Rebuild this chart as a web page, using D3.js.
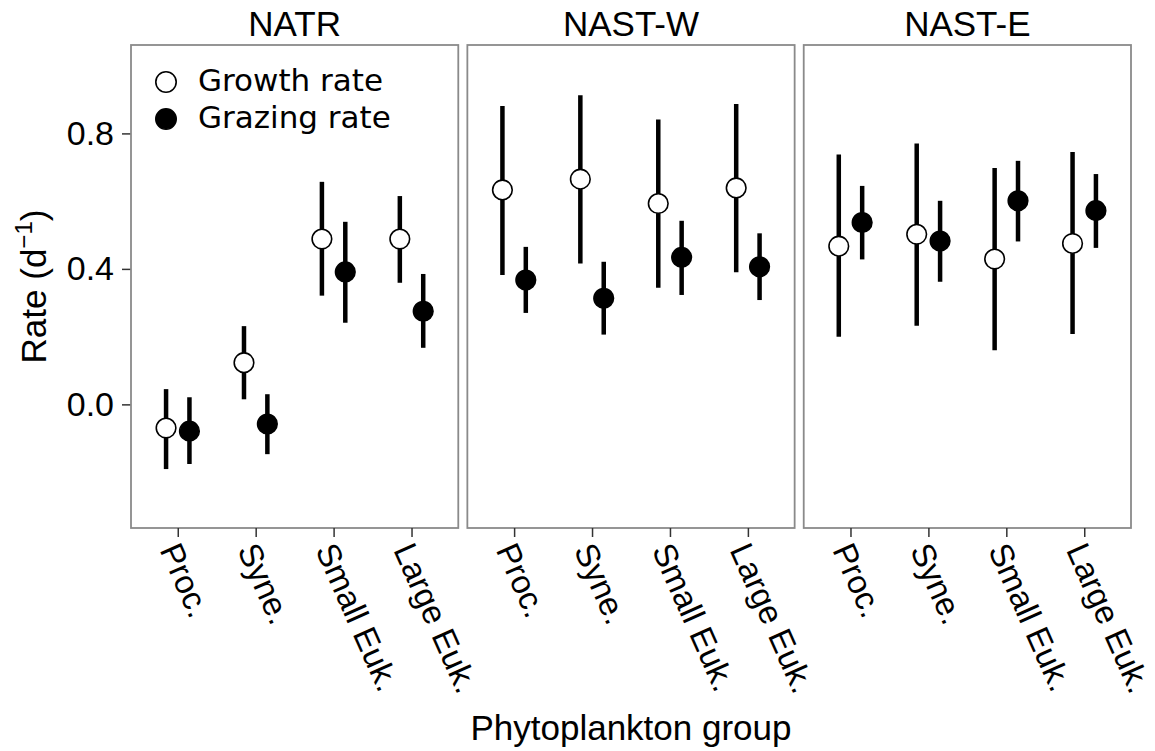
<!DOCTYPE html>
<html>
<head>
<meta charset="utf-8">
<script src="https://cdn.jsdelivr.net/npm/d3@7/dist/d3.min.js"></script>
<style>
  html, body { margin: 0; padding: 0; background: #fff; }
  svg { display: block; }
</style>
</head>
<body>
<svg id="chart" width="1155" height="751"></svg>
<script>
// ---------------- data ----------------
const panels = ["NATR", "NAST-W", "NAST-E"];
const groups = ["Proc.", "Syne.", "Small Euk.", "Large Euk."];
const seriesNames = ["Growth rate", "Grazing rate"];
const yTicks = [0.0, 0.4, 0.8];

// Growth rate (mean, lower, upper) per panel
const growthNATR      = [-0.070, 0.123, 0.488, 0.488];
const growthNATRlo    = [-0.191, 0.015, 0.321, 0.359];
const growthNATRhi    = [ 0.045, 0.231, 0.657, 0.615];
const growthNASTW     = [0.633, 0.665, 0.593, 0.639];
const growthNASTWlo   = [0.382, 0.416, 0.344, 0.390];
const growthNASTWhi   = [0.881, 0.913, 0.841, 0.887];
const growthNASTE     = [0.467, 0.502, 0.429, 0.475];
const growthNASTElo   = [0.200, 0.232, 0.160, 0.208];
const growthNASTEhi   = [0.738, 0.770, 0.698, 0.745];

// Grazing rate (mean, lower, upper) per panel
const grazingNATR     = [-0.079, -0.058, 0.391, 0.275];
const grazingNATRlo   = [-0.176, -0.147, 0.241, 0.167];
const grazingNATRhi   = [ 0.021,  0.030, 0.539, 0.385];
const grazingNASTW    = [0.367, 0.313, 0.434, 0.406];
const grazingNASTWlo  = [0.270, 0.206, 0.323, 0.308];
const grazingNASTWhi  = [0.465, 0.421, 0.542, 0.505];
const grazingNASTE    = [0.537, 0.482, 0.601, 0.572];
const grazingNASTElo  = [0.428, 0.362, 0.481, 0.462];
const grazingNASTEhi  = [0.645, 0.601, 0.719, 0.680];

const growthMean = [growthNATR, growthNASTW, growthNASTE];
const growthLo   = [growthNATRlo, growthNASTWlo, growthNASTElo];
const growthHi   = [growthNATRhi, growthNASTWhi, growthNASTEhi];
const grazingMean = [grazingNATR, grazingNASTW, grazingNASTE];
const grazingLo   = [grazingNATRlo, grazingNASTWlo, grazingNASTElo];
const grazingHi   = [grazingNATRhi, grazingNASTWhi, grazingNASTEhi];

// build long table
const rows = [];
panels.forEach((p, pi) => {
  groups.forEach((g, gi) => {
    rows.push({panel: p, group: g, series: seriesNames[0],
      v: growthMean[pi][gi], lo: growthLo[pi][gi], hi: growthHi[pi][gi]});
    rows.push({panel: p, group: g, series: seriesNames[1],
      v: grazingMean[pi][gi], lo: grazingLo[pi][gi], hi: grazingHi[pi][gi]});
  });
});

// ---------------- layout ----------------
const svg = d3.select("#chart");
const plotLeft = 131, plotRight = 1131, plotTop = 45, plotBottom = 528;
const labelFont = "'Liberation Sans', Arial, Helvetica, sans-serif";
const legendFont = "'DejaVu Sans', Verdana, sans-serif";
const fsTitle = 35, fsTick = 34, fsXTick = 33;

const panelScale = d3.scaleBand().domain(panels).range([plotLeft, plotRight]).paddingInner(0.027);
const y = d3.scaleLinear().domain([-0.365, 1.061]).range([plotBottom, plotTop]);
const dodge = d3.scalePoint().domain(seriesNames).range([-0.15, 0.15]);

// y axis
const yAxis = d3.axisLeft(y).tickValues(yTicks).tickFormat(d3.format(".1f")).tickSize(9).tickPadding(8);
const gy = svg.append("g").attr("transform", `translate(${plotLeft},0)`).call(yAxis);
gy.select(".domain").remove();
gy.selectAll(".tick line").attr("stroke", "#333").attr("stroke-width", 1.5);
gy.selectAll(".tick text").attr("font-family", labelFont).attr("font-size", fsTick).attr("fill", "#000");

panels.forEach((p) => {
  const x0 = panelScale(p), x1 = x0 + panelScale.bandwidth();
  const x = d3.scalePoint().domain(groups).range([x0, x1]).padding(0.6);
  const step = x.step();
  const g = svg.append("g");

  // panel border
  g.append("rect").attr("x", x0).attr("y", plotTop)
    .attr("width", x1 - x0).attr("height", plotBottom - plotTop)
    .attr("fill", "none").attr("stroke", "#8a8a8a").attr("stroke-width", 1.8);

  // strip title
  g.append("text").attr("x", (x0 + x1) / 2).attr("y", 36)
    .attr("text-anchor", "middle").attr("font-family", labelFont)
    .attr("font-size", fsTitle).attr("fill", "#000").text(p);

  // x axis
  const xAxis = d3.axisBottom(x).tickSize(9).tickFormat("");
  const gx = g.append("g").attr("transform", `translate(0,${plotBottom})`).call(xAxis);
  gx.select(".domain").remove();
  gx.selectAll(".tick line").attr("stroke", "#333").attr("stroke-width", 1.5);

  g.selectAll(".xlab").data(groups).enter().append("text")
    .attr("class", "xlab")
    .attr("transform", d => `translate(${x(d) - 8},${plotBottom + 17}) rotate(66)`)
    .attr("text-anchor", "start").attr("dy", "0.35em")
    .attr("font-family", labelFont).attr("font-size", fsXTick).attr("fill", "#000")
    .text(d => d);

  const data = rows.filter(r => r.panel === p);
  const cx = d => x(d.group) + dodge(d.series) * step;

  // error bars
  g.selectAll(".err").data(data).enter().append("line")
    .attr("x1", cx).attr("x2", cx)
    .attr("y1", d => y(d.lo)).attr("y2", d => y(d.hi))
    .attr("stroke", "#000").attr("stroke-width", 4.5);

  // points
  g.selectAll(".pt").data(data).enter().append("circle")
    .attr("cx", cx).attr("cy", d => y(d.v)).attr("r", 9.8)
    .attr("fill", d => d.series === seriesNames[0] ? "#fff" : "#000")
    .attr("stroke", "#000").attr("stroke-width", 1.6);
});

// legend
const leg = svg.append("g");
const legY = d3.scalePoint().domain(seriesNames).range([82, 119]);
seriesNames.forEach((s, i) => {
  leg.append("circle").attr("cx", 166).attr("cy", legY(s)).attr("r", 10.2)
    .attr("fill", i === 0 ? "#fff" : "#000").attr("stroke", "#000").attr("stroke-width", 1.6);
  leg.append("text").attr("x", 198).attr("y", legY(s) + 8.5)
    .attr("font-family", legendFont).attr("font-size", 31).attr("fill", "#000").text(s);
});

// axis titles
svg.append("text").attr("x", (plotLeft + plotRight) / 2).attr("y", 740)
  .attr("text-anchor", "middle").attr("font-family", labelFont).attr("font-size", fsTitle)
  .attr("fill", "#000").text("Phytoplankton group");

const yt = svg.append("text")
  .attr("transform", `translate(46,${(plotTop + plotBottom) / 2}) rotate(-90)`)
  .attr("text-anchor", "middle").attr("font-family", labelFont).attr("font-size", fsTitle).attr("fill", "#000");
yt.append("tspan").text("Rate (d");
yt.append("tspan").attr("dy", -14).attr("font-size", 24).text("\u22121");
yt.append("tspan").attr("dy", 14).text(")");
</script>
</body>
</html>
